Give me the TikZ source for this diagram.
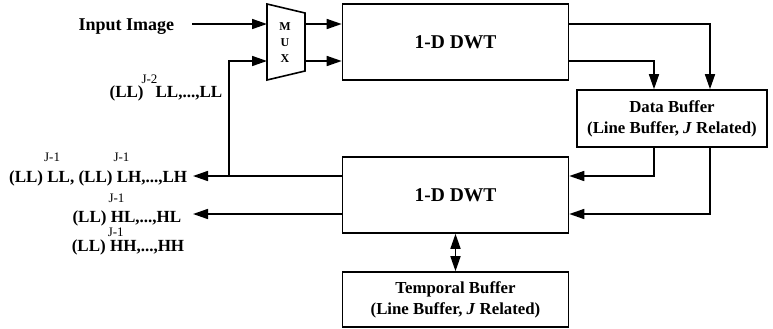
\documentclass[tikz,border=0pt]{standalone}
\usepackage{fontspec}
\setmainfont{Liberation Serif}
\usetikzlibrary{arrows.meta,calc,positioning}

% raised level index: #1 raise, #2 kern, #3 text
\newcommand\lvl[3]{\rlap{\hspace{#2}\smash{\raisebox{#1}{\fontsize{6.5}{6.5}\selectfont\mdseries #3}}}}

\tikzset{
  blk/.style={draw, line width=0.8pt, minimum width=113pt, minimum height=38pt, inner sep=0pt, align=center, font=\fontsize{9.75}{11}\selectfont\bfseries},
  buf/.style={blk, font=\fontsize{8.4}{10.5}\selectfont\bfseries},
  lbl/.style={inner sep=0pt, font=\fontsize{8.5}{10}\selectfont\bfseries},
}

\begin{document}
\begin{tikzpicture}[x=0.5pt, y=-0.5pt, line width=0.8pt, >={Triangle[length=7.5pt,width=5pt]}]
	\useasboundingbox (0,0) rectangle (773,328);
	% mux
	\draw (267,4) -- (305,13) -- (305,71) -- (267,80) -- cycle;
	\node[inner sep=0pt, align=center, font=\fontsize{6}{8}\selectfont\bfseries] (mux) at (285,43) {M\\U\\X};
	\coordinate (mi1) at (267,24);
	\coordinate (mi2) at (267,61);
	\coordinate (mo1) at (305,24);
	\coordinate (mo2) at (305,61);
	% blocks
	\node[blk] (dwtA) at (455.5,42) {1-D DWT};
	\node[blk] (dwtB) at (455.5,195) {1-D DWT};
	\node[buf, minimum width=95pt, minimum height=28.5pt] (dbuf) at (672,118.5) {Data Buffer\\(Line Buffer, \textit{J} Related)};
	\node[buf, minimum height=27.5pt] (tbuf) at (455.5,299.5) {Temporal Buffer\\(Line Buffer, \textit{J} Related)};
	% labels
	\node[lbl, anchor=base east, font=\fontsize{9}{10}\selectfont\bfseries] (inimg) at (175,30) {Input Image};
	\node[lbl, anchor=base east] (outT) at (223,97) {(LL)\lvl{6.6pt}{-1pt}{J-2}\hspace{6pt}LL,...,LL};
	\node[lbl, anchor=base east] (outA) at (188,182) {(LL)\lvl{10.1pt}{0.5pt}{J-1} LL, (LL)\lvl{10.1pt}{0.5pt}{J-1} LH,...,LH};
	\node[lbl, anchor=base east] (outB) at (182,222) {(LL)\lvl{9.6pt}{1pt}{J-1} HL,...,HL};
	\node[lbl, anchor=base east] (outC) at (185,251) {(LL)\lvl{7.1pt}{1pt}{J-1} HH,...,HH};
	\coordinate (inA) at (192,24);
	\coordinate (endA) at (193,176);
	\coordinate (endB) at (193,214);
	\coordinate (fb) at (229,176);
	% connectors
	\draw[->] (inA) -- (mi1);
	\draw[->] (mo1) -- (mo1 -| dwtA.west);
	\draw[->] (mo2) -- (mo2 -| dwtA.west);
	\draw[->] (dwtA.east |- mo1) -| ([xshift=19pt]dbuf.north);
	\draw[->] (dwtA.east |- mo2) -| ([xshift=-9pt]dbuf.north);
	\draw[->] ([xshift=-9pt]dbuf.south) |- (dwtB.east |- endA);
	\draw[->] ([xshift=19pt]dbuf.south) |- (dwtB.east |- endB);
	\draw[->] (dwtB.west |- endA) -- (endA);
	\draw[->] (dwtB.west |- endB) -- (endB);
	\draw[->] (fb) |- (mi2);
	\draw[<->] (dwtB.south) -- (tbuf.north);
\end{tikzpicture}
\end{document}
